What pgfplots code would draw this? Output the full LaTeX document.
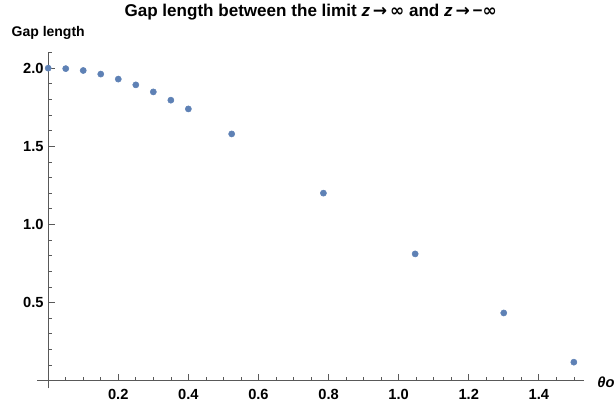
\documentclass[border=0pt]{standalone}
\usepackage{pgfplots}
\pgfplotsset{compat=1.18}
\usepackage{fontspec}
\setmainfont{Liberation Sans}
\newfontfamily\dejavu{DejaVu Sans}
\definecolor{ptblue}{RGB}{94,129,181}
\definecolor{axgray}{gray}{0.35}
\newcommand{\arr}{{\dejavu\bfseries →}}
\newcommand{\infy}{{\dejavu\bfseries ∞}}
\begin{document}
\begin{tikzpicture}
\path[use as bounding box] (-28pt,-16.3pt) rectangle ++(460.5pt,307.5pt);
\begin{axis}[
  at={(0,0)}, anchor=south west,
  scale only axis, width=410pt, height=252.5pt,
  axis lines=middle,
  axis line style={-, draw=axgray, line width=0.6pt},
  xmin=-0.031, xmax=1.529, ymin=-0.049, ymax=2.106,
  xtick={0.2,0.4,0.6,0.8,1.0,1.2,1.4},
  ytick={0.5,1.0,1.5,2.0},
  minor xtick={0.05,0.1,0.15,0.25,0.3,0.35,0.45,0.5,0.55,0.65,0.7,0.75,0.85,0.9,0.95,1.05,1.1,1.15,1.25,1.3,1.35,1.45,1.5},
  minor ytick={0.1,0.2,0.3,0.4,0.6,0.7,0.8,0.9,1.1,1.2,1.3,1.4,1.6,1.7,1.8,1.9,2.1},
  tick align=inside,
  major tick length=5pt, minor tick length=3pt,
  tick style={axgray, line width=0.5pt},
  ticklabel style={font=\fontsize{11}{13}\selectfont\bfseries},
  xticklabel style={yshift=-3pt},
  /pgf/number format/assume math mode=true,
  /pgf/number format/.cd, fixed, fixed zerofill, precision=1,
  /pgfplots/.cd,
  clip=false,
]
\addplot[only marks, mark=*, mark size=2.3pt, color=ptblue] coordinates {
  (0,2.0) (0.05,1.997) (0.1,1.985) (0.15,1.962) (0.2,1.93)
  (0.25,1.893) (0.3,1.848) (0.35,1.795) (0.4,1.739)
  (0.5236,1.579) (0.7854,1.2) (1.0472,0.811) (1.3,0.433) (1.5,0.118)
};
\node[anchor=base, yshift=26.4pt, font=\fontsize{12.8}{14}\selectfont\bfseries]
  at (rel axis cs:0.5,1) {Gap length between the limit \textit{z}\,\arr\,\infy{} and \textit{z}\,\arr\,−\infy};
\node[anchor=base, yshift=11.25pt, font=\fontsize{10.5}{12}\selectfont\bfseries]
  at (rel axis cs:0.0199,1) {Gap length};
\node[anchor=west, xshift=6.5pt, yshift=-1.5pt, font=\fontsize{11}{12}\selectfont\bfseries\itshape]
  at (axis cs:1.529,0) {θo};
\end{axis}
\end{tikzpicture}
\end{document}
